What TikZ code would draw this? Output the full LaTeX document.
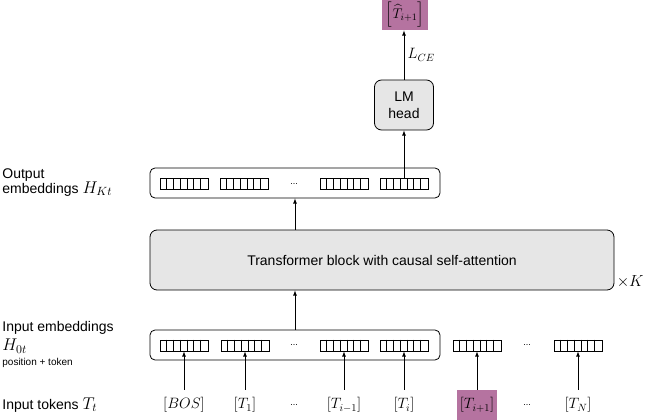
\RequirePackage{fix-cm}
\documentclass[tikz,border=0pt]{standalone}
\usepackage{amsmath}
\usepackage{amssymb}
\usepackage{fontspec}
\setmainfont{Liberation Sans}
\usetikzlibrary{positioning}
\definecolor{tgtpurple}{RGB}{181,115,160}
\definecolor{blockgray}{RGB}{230,230,230}

\tikzset{
	vecbox/.style={draw, minimum width=48pt, minimum height=11pt, inner sep=0pt},
	embbox/.style={draw, rounded corners=5pt, minimum width=290pt, minimum height=30pt},
	blockbox/.style={draw, rounded corners=7pt, fill=blockgray, font=\fontsize{14}{17}\selectfont},
	toklabel/.style={minimum height=30pt, inner sep=0pt, font=\fontsize{15}{17}\selectfont},
	tgtbox/.style={fill=tgtpurple, minimum width=40pt, minimum height=30pt, inner sep=0pt},
	dotlabel/.style={inner sep=0pt, font=\fontsize{9}{10}\selectfont},
	sidelabel/.style={anchor=west, inner sep=0pt, font=\fontsize{14}{17}\selectfont},
	flow/.style={-latex}
}

% larger math next to the side texts
\newcommand{\sidemath}[1]{{\fontsize{17}{17}\selectfont$#1$}}

% one embedding vector with 7 cells
\newcommand{\embvec}[3]{%
	\node[vecbox] (#1) at (#2,#3) {};
	\foreach \k in {1,...,6}
		\draw ([xshift=\k*6.857pt]#1.north west) -- ([xshift=\k*6.857pt]#1.south west);
}

\begin{document}
\begin{tikzpicture}[x=1pt, y=-1pt, line width=0.8pt]
	\useasboundingbox (0,0) rectangle (670,420);

	% left labels
	\node[sidelabel] (outlbl) at (2,175) {Output};
	\node[sidelabel] (outlblb) at (2,189) {embeddings \sidemath{H_{Kt}}};
	\node[sidelabel] (inlbl) at (2,328) {Input embeddings};
	\node[sidelabel] (inlblb) at (2,346) {\sidemath{H_{0t}}};
	\node[sidelabel, font=\fontsize{10}{12}\selectfont] (poslbl) at (2,363) {position + token};
	\node[sidelabel] (toklbl) at (2,405) {Input tokens \sidemath{T_t}};

	% boxes
	\node[embbox] (outemb) at (295,183) {};
	\node[blockbox, minimum width=464pt, minimum height=60pt] (block) at (382,260) {Transformer block with causal self-attention};
	\node[anchor=south west, inner sep=2pt, font=\fontsize{16}{17}\selectfont] (repeat) at (block.south east) {$\times K$};
	\node[embbox] (inemb) at (295,345) {};
	\node[blockbox, minimum width=59pt, minimum height=50pt, align=center] (lmhead) at (404,105) {LM\\head};
	\node[tgtbox, minimum width=46pt, font=\fontsize{14}{17}\selectfont] (target) at (405,15) {$\Bigl[\widehat{T}_{i+1}\Bigr]$};

	% output embeddings
	\embvec{out1}{184}{184}
	\embvec{out2}{244}{184}
	\node[dotlabel] (outdots) at (294,184) {...};
	\embvec{out3}{344}{184}
	\embvec{out4}{404}{184}

	% input embeddings
	\embvec{in1}{184}{345.5}
	\embvec{in2}{245}{345.5}
	\node[dotlabel] (indots) at (294,345.5) {...};
	\embvec{in3}{344}{345.5}
	\embvec{in4}{404}{345.5}
	\embvec{in5}{477}{345.5}
	\node[dotlabel] (indotsb) at (527,345.5) {...};
	\embvec{in6}{578}{345.5}

	% tokens
	\node[toklabel] (tok1) at (184,405) {$[BOS]$};
	\node[toklabel] (tok2) at (245,405) {$[T_1]$};
	\node[dotlabel] (tokdots) at (294,405) {...};
	\node[toklabel] (tok3) at (344,405) {$[T_{i-1}]$};
	\node[toklabel] (tok4) at (404,405) {$[T_i]$};
	\node[toklabel, tgtbox] (tok5) at (477,405) {$[T_{i+1}]$};
	\node[dotlabel] (tokdotsb) at (527,405) {...};
	\node[toklabel] (tok6) at (578,405) {$[T_N]$};

	% arrows
	\draw[flow] (tok1.north) -- (in1.south);
	\draw[flow] (tok2.north) -- (in2.south);
	\draw[flow] (tok3.north) -- (in3.south);
	\draw[flow] (tok4.north) -- (in4.south);
	\draw[flow] (tok5.north) -- (in5.south);
	\draw[flow] (tok6.north) -- (in6.south);
	\draw[flow] (inemb.north) -- (inemb.north |- block.south);
	\draw[flow] (outemb.south |- block.north) -- (outemb.south);
	\draw[flow] (out4.north) -- (out4.north |- lmhead.south);
	\draw[flow] (lmhead.north) -- node[right, font=\fontsize{15}{17}\selectfont] {$L_{CE}$} (lmhead.north |- target.south);
\end{tikzpicture}
\end{document}
